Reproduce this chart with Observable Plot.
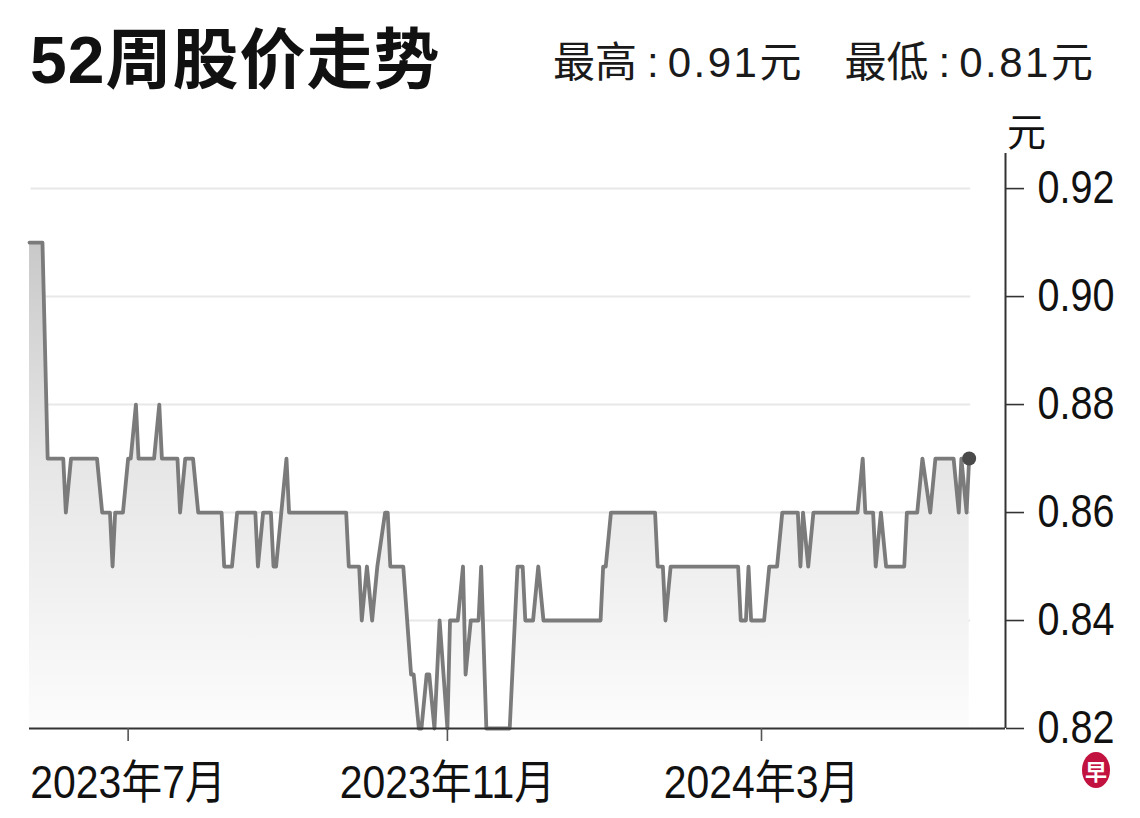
<!DOCTYPE html>
<html>
<head>
<meta charset="utf-8">
<script src="https://cdn.jsdelivr.net/npm/d3@7"></script>
<script src="https://cdn.jsdelivr.net/npm/@observablehq/plot@0.6"></script>
<style>
  body { margin: 0; background: #fff; }
  #wrap { position: relative; width: 1140px; height: 818px; overflow: hidden; background: #fff;
          font-family: "Liberation Sans", "Noto Sans CJK SC", sans-serif; }
  #title { position: absolute; left: 30px; top: 27px; font-size: 66px; font-weight: 700; line-height: 1;
           letter-spacing: 1px; color: #111; white-space: nowrap; }
  #sub { position: absolute; left: 553px; top: 42px; font-size: 42px; line-height: 1; color: #1a1a1a; white-space: nowrap; }
  #sub .c { display: inline-block; margin: 0 9px 0 10px; }
  #sub .n { letter-spacing: 2.5px; }
  #sub .gap { display: inline-block; width: 43px; }
  #chart { position: absolute; left: 0; top: 100px; }
  #logo { position: absolute; left: 1082px; top: 752px; width: 28px; height: 36px; border-radius: 50%;
          background: #c2123f; color: #fff; font: 700 22px/36px "Noto Sans CJK SC", sans-serif; text-align: center; }
</style>
</head>
<body>
<div id="wrap">
  <div id="title">52周股价走势</div>
  <div id="sub">最高<span class="c">:</span><span class="n">0.91</span>元<span class="gap"></span>最低<span class="c">:</span><span class="n">0.81</span>元</div>
  <div id="chart"></div>
  <div id="logo">早</div>
</div>
<script>
// ---- data (vertices of the daily closing-price line) ----
const dates = [
  "2023-05-24","2023-05-29","2023-05-31","2023-06-06","2023-06-07","2023-06-09","2023-06-19","2023-06-21",
  "2023-06-24","2023-06-25","2023-06-26","2023-06-29","2023-07-01","2023-07-02","2023-07-04","2023-07-05",
  "2023-07-11","2023-07-13","2023-07-14","2023-07-20","2023-07-21","2023-07-23","2023-07-26","2023-07-28",
  "2023-08-06","2023-08-07","2023-08-10","2023-08-12","2023-08-19","2023-08-20","2023-08-22","2023-08-25",
  "2023-08-26","2023-08-27","2023-08-29","2023-08-31","2023-09-01","2023-09-23","2023-09-24","2023-09-28",
  "2023-09-29","2023-10-01","2023-10-03","2023-10-05","2023-10-08","2023-10-09","2023-10-10","2023-10-15",
  "2023-10-18","2023-10-19","2023-10-21","2023-10-22","2023-10-24","2023-10-25","2023-10-27","2023-10-29",
  "2023-11-01","2023-11-02","2023-11-05","2023-11-07","2023-11-08","2023-11-10","2023-11-13","2023-11-14",
  "2023-11-16","2023-11-25","2023-11-28","2023-11-30","2023-12-01","2023-12-04","2023-12-06","2023-12-08",
  "2023-12-30","2023-12-31","2024-01-01","2024-01-03","2024-01-20","2024-01-21","2024-01-23","2024-01-24",
  "2024-01-26","2024-02-21","2024-02-22","2024-02-24","2024-02-25","2024-02-26","2024-03-02","2024-03-04",
  "2024-03-07","2024-03-09","2024-03-15","2024-03-16","2024-03-17","2024-03-19","2024-03-21","2024-04-07",
  "2024-04-09","2024-04-10","2024-04-13","2024-04-14","2024-04-16","2024-04-18","2024-04-25","2024-04-26",
  "2024-04-30","2024-05-02","2024-05-05","2024-05-07","2024-05-14","2024-05-16","2024-05-17","2024-05-19",
  "2024-05-20"
];
const prices = [
  0.91,0.91,0.87,0.87,0.86,0.87,0.87,0.86,
  0.86,0.85,0.86,0.86,0.87,0.87,0.88,0.87,
  0.87,0.88,0.87,0.87,0.86,0.87,0.87,0.86,
  0.86,0.85,0.85,0.86,0.86,0.85,0.86,0.86,
  0.85,0.85,0.86,0.87,0.86,0.86,0.85,0.85,
  0.84,0.85,0.84,0.85,0.86,0.86,0.85,0.85,
  0.83,0.83,0.82,0.82,0.83,0.83,0.82,0.84,
  0.82,0.84,0.84,0.85,0.83,0.84,0.84,0.85,
  0.82,0.82,0.85,0.85,0.84,0.84,0.85,0.84,
  0.84,0.85,0.85,0.86,0.86,0.85,0.85,0.84,
  0.85,0.85,0.84,0.84,0.85,0.84,0.84,0.85,
  0.85,0.86,0.86,0.85,0.86,0.85,0.86,0.86,
  0.87,0.86,0.86,0.85,0.86,0.85,0.85,0.86,
  0.86,0.87,0.86,0.87,0.87,0.86,0.87,0.86,
  0.87
];
const yTicks = [0.82, 0.84, 0.86, 0.88, 0.90, 0.92];
const xTickDates = ["2023-07-01", "2023-11-01", "2024-03-01"];
const xTickLabels = ["2023年7月", "2023年11月", "2024年3月"];
const xDomainDates = ["2023-05-24", "2024-06-03"];
const yDomain = [0.82, 0.9265];
const yUnit = "元";

// ---- build ----
const parse = d3.utcParse("%Y-%m-%d");
const data = dates.map((d, i) => ({date: parse(d), price: prices[i]}));
const xDomain = xDomainDates.map(parse);
const xTicks = xTickDates.map(parse);
const last = data[data.length - 1];
const fontStack = "'Liberation Sans','Noto Sans CJK SC',sans-serif";

const chart = Plot.plot({
  width: 1140,
  height: 718,
  marginLeft: 29,
  marginRight: 135,
  marginTop: 53,
  marginBottom: 90,
  style: {fontFamily: fontStack, background: "transparent", overflow: "visible", color: "#111"},
  x: {type: "utc", domain: xDomain},
  y: {domain: yDomain},
  marks: [
    Plot.ruleY(yTicks.slice(1), {x1: data[0].date, x2: last.date, stroke: "#e8e8e8", strokeWidth: 2, dx: 1.5}),
    Plot.areaY(data, {x: "date", y1: yDomain[0], y2: "price", fill: "url(#areaGrad)", curve: "linear"}),
    Plot.lineY(data, {x: "date", y: "price", stroke: "#7b7b7b", strokeWidth: 3.8, strokeLinejoin: "round", curve: "linear"}),
    Plot.dot([last], {x: "date", y: "price", r: 7, fill: "#4a4a4a", stroke: "none"}),
    Plot.ruleY([yDomain[0]], {stroke: "#333", strokeWidth: 2}),
    Plot.ruleX([xDomain[1]], {stroke: "#333", strokeWidth: 2}),
    Plot.axisY({anchor: "right", ticks: yTicks, tickFormat: d => d.toFixed(2), tickSize: 18, tickPadding: 14,
                fontSize: 46, label: null, stroke: "#333", strokeWidth: 1.6, fill: "#111", ariaLabel: "y-axis"}),
    Plot.axisX({ticks: xTicks, tickFormat: d => xTickLabels[xTicks.findIndex(t => +t === +d)],
                tickSize: 13, tickPadding: 24, fontSize: 46, label: null, stroke: "#555", strokeWidth: 1.6, fill: "#111",
                ariaLabel: "x-axis"}),
    Plot.text([yUnit], {frameAnchor: "top-right", dx: 21, dy: -20, fontSize: 39, fill: "#111",
                        fontFamily: "'Noto Sans CJK SC',sans-serif", textAnchor: "middle", lineAnchor: "middle"})
  ]
});

// gradient for the area
const ns = "http://www.w3.org/2000/svg";
const defs = document.createElementNS(ns, "defs");
const lg = document.createElementNS(ns, "linearGradient");
lg.setAttribute("id", "areaGrad");
lg.setAttribute("x1", "0"); lg.setAttribute("y1", "0"); lg.setAttribute("x2", "0"); lg.setAttribute("y2", "1");
[["0", "#c9c9c9"], ["0.45", "#e6e6e6"], ["1", "#fcfcfc"]].forEach(([o, c]) => {
  const s = document.createElementNS(ns, "stop");
  s.setAttribute("offset", o); s.setAttribute("stop-color", c);
  lg.appendChild(s);
});
defs.appendChild(lg);
chart.insertBefore(defs, chart.firstChild);

// condense tick labels horizontally (the reference uses a narrow face)
function condense(selector, k) {
  chart.querySelectorAll(selector).forEach(t => {
    const tr = t.getAttribute("transform") || "";
    t.setAttribute("transform", tr + ` scale(${k},1)`);
  });
}
condense('g[aria-label="y-axis tick label"] text', 0.86);
condense('g[aria-label="x-axis tick label"] text', 0.89);

document.getElementById("chart").appendChild(chart);
</script>
</body>
</html>
